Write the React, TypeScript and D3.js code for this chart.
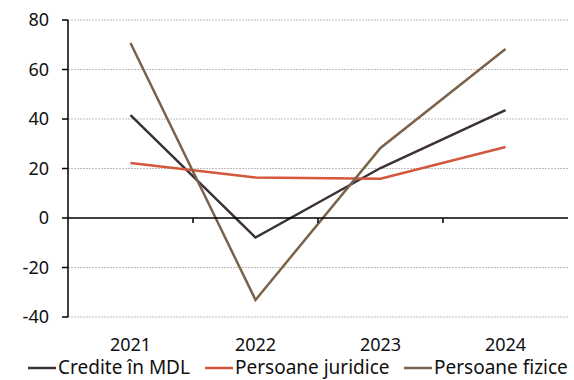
import React from "react";
import * as d3 from "d3";

const years = ["2021", "2022", "2023", "2024"];
const crediteMDL = [41.6, -7.9, 20.2, 43.6];
const persoaneJuridice = [22.2, 16.4, 15.9, 28.7];
const persoaneFizice = [70.7, -33.1, 28.3, 68.3];
const yTicks = [-40, -20, 0, 20, 40, 60, 80];
const seriesNames = ["Credite în MDL", "Persoane juridice", "Persoane fizice"];
const seriesColors = ["#3b3134", "#d4573b", "#7b624a"];

const W = 574, H = 380;
const left = 68, right = 568, top = 20, bottom = 317;
const font = "'Noto Sans', sans-serif";

export default function App() {
  const x = d3.scaleBand().domain(years).range([left, right]);
  const y = d3.scaleLinear().domain([-40, 80]).range([bottom, top]);
  const line = d3
    .line<number>()
    .x((_, i) => (x(years[i]) as number) + x.bandwidth() / 2)
    .y((d) => y(d));
  const series = [crediteMDL, persoaneJuridice, persoaneFizice];
  const legendX = [28, 205, 404];
  return (
    <svg width={W} height={H} style={{ position: "absolute", left: 0, top: 0 }} fontFamily={font}>
      {yTicks.filter((t) => t !== 0).map((t) => (
        <line key={t} x1={left} x2={right} y1={y(t)} y2={y(t)} stroke="#bdbdbd" strokeWidth={1} strokeDasharray="2,1" />
      ))}
      {series.map((s, i) => (
        <path key={i} d={line(s) || ""} fill="none" stroke={seriesColors[i]} strokeWidth={2.5} />
      ))}
      <line x1={left} x2={left} y1={top} y2={bottom} stroke="#000" strokeWidth={1.5} />
      <line x1={left} x2={right} y1={y(0)} y2={y(0)} stroke="#000" strokeWidth={1.5} />
      {yTicks.map((t) => (
        <g key={t}>
          <line x1={left - 6} x2={left} y1={y(t)} y2={y(t)} stroke="#000" strokeWidth={1.5} />
          <text x={left - 19} y={y(t)} dy="0.36em" textAnchor="end" fontSize={18} fill="#111">{t}</text>
        </g>
      ))}
      {years.slice(1).map((yr) => (
        <line key={yr} x1={x(yr)} x2={x(yr)} y1={y(0)} y2={y(0) + 5} stroke="#000" strokeWidth={1.5} />
      ))}
      {years.map((yr) => (
        <text key={yr} x={(x(yr) as number) + x.bandwidth() / 2} y={351} textAnchor="middle" fontSize={18} fill="#111">{yr}</text>
      ))}
      {seriesNames.map((n, i) => (
        <g key={n}>
          <line x1={legendX[i]} x2={legendX[i] + 28} y1={368} y2={368} stroke={seriesColors[i]} strokeWidth={2.5} />
          <text x={legendX[i] + 30} y={374} fontSize={19} fill="#111">{n}</text>
        </g>
      ))}
    </svg>
  );
}
